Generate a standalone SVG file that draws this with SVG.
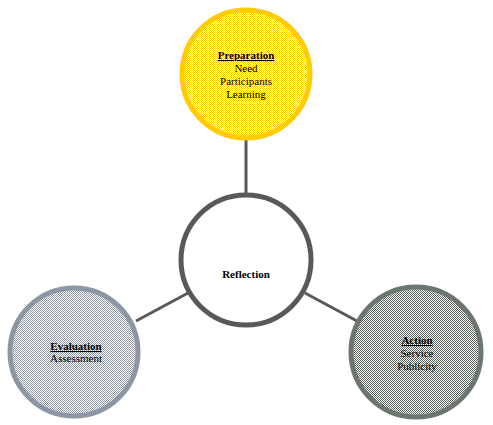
<svg xmlns="http://www.w3.org/2000/svg" width="493" height="425" viewBox="0 0 493 425">
<defs>
<pattern id="pY" width="2" height="2" patternUnits="userSpaceOnUse"><rect width="2" height="2" fill="#fff"/><rect width="1" height="1" fill="#FFCC00"/><rect x="1" y="1" width="1" height="1" fill="#FFCC00"/></pattern>
<pattern id="pB" width="2" height="2" patternUnits="userSpaceOnUse"><rect width="2" height="2" fill="#fff"/><rect width="1" height="1" fill="#8C97A3"/><rect x="1" y="1" width="1" height="1" fill="#8C97A3"/></pattern>
<pattern id="pG" width="2" height="2" patternUnits="userSpaceOnUse"><rect width="2" height="2" fill="#fff"/><rect width="1" height="1" fill="#56635A"/><rect x="1" y="1" width="1" height="1" fill="#56635A"/></pattern>
<style>
.t{font-family:"Liberation Serif","Times New Roman",serif;font-size:11px;fill:#000;text-anchor:middle}
.h{font-weight:bold;text-decoration:underline}
.c{stroke-width:5}
.ln{stroke:#595959;stroke-width:3;fill:none}
</style>
</defs>
<rect width="493" height="425" fill="#fff"/>
<g id="connectors">
<line class="ln" x1="246" y1="138" x2="246" y2="196"/>
<line class="ln" x1="136" y1="321" x2="188" y2="293"/>
<line class="ln" x1="305" y1="293" x2="357" y2="321"/>
</g>
<g id="preparation">
<circle class="c" cx="246" cy="74" r="64" fill="url(#pY)" stroke="#FFCC00"/>
<text class="t h" x="246" y="59">Preparation</text>
<text class="t" x="246" y="72">Need</text>
<text class="t" x="246" y="85">Participants</text>
<text class="t" x="246" y="98">Learning</text>
</g>
<g id="reflection">
<circle class="c" cx="246" cy="260" r="65" fill="#fff" stroke="#595959"/>
<text class="t" x="246" y="278" font-weight="bold">Reflection</text>
</g>
<g id="evaluation">
<circle class="c" cx="74" cy="352" r="64" fill="url(#pB)" stroke="#8C97A3"/>
<text class="t h" x="76" y="350">Evaluation</text>
<text class="t" x="76" y="362">Assessment</text>
</g>
<g id="action">
<circle class="c" cx="416" cy="352" r="65" fill="url(#pG)" stroke="#6B776F"/>
<text class="t h" x="417" y="344">Action</text>
<text class="t" x="417" y="357">Service</text>
<text class="t" x="417" y="370">Publicity</text>
</g>
</svg>
